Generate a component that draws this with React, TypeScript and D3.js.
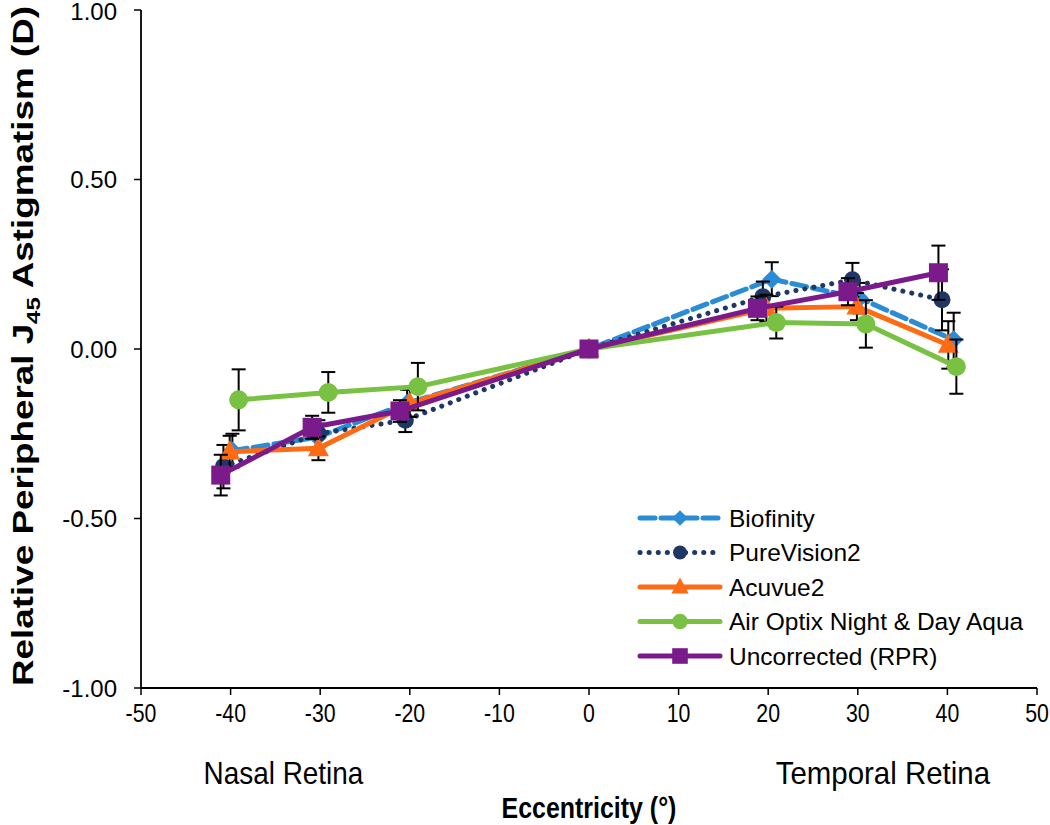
import React from "react";
import * as d3 from "d3";

const seriesNames = ["Biofinity", "PureVision2", "Acuvue2", "Air Optix Night & Day Aqua", "Uncorrected (RPR)"];

const biofinityX = [-39.8, -30.3, -20.3, 0, 20.4, 30.2, 40.7];
const biofinityY = [-0.3, -0.26, -0.16, 0, 0.206, 0.15, 0.027];
const biofinityErr = [0.05, 0.04, 0.04, 0, 0.05, 0.045, 0.08];

const pureVisionX = [-40.8, -30.2, -20.5, 0, 19.4, 29.4, 39.4];
const pureVisionY = [-0.347, -0.25, -0.21, 0, 0.154, 0.204, 0.145];
const pureVisionErr = [0.064, 0.04, 0.035, 0, 0.045, 0.05, 0.09];

const acuvueX = [-40.1, -30.2, -20, 0, 19.8, 29.9, 40.1];
const acuvueY = [-0.303, -0.293, -0.16, 0, 0.12, 0.125, 0.012];
const acuvueErr = [0.047, 0.035, 0.04, 0, 0.04, 0.04, 0.07];

const airOptixX = [-39.1, -29.1, -19.1, 0, 20.9, 30.9, 41];
const airOptixY = [-0.15, -0.128, -0.111, 0, 0.078, 0.074, -0.052];
const airOptixErr = [0.09, 0.06, 0.07, 0, 0.047, 0.07, 0.08];

const uncorrectedX = [-41.1, -30.9, -21.1, 0, 18.8, 28.9, 39];
const uncorrectedY = [-0.372, -0.231, -0.183, 0, 0.12, 0.169, 0.225];
const uncorrectedErr = [0.06, 0.034, 0.032, 0, 0.035, 0.04, 0.08];

const xTicks = [-50, -40, -30, -20, -10, 0, 10, 20, 30, 40, 50];
const yTicks = [-1, -0.5, 0, 0.5, 1];

const FONT = "'Liberation Sans', Arial, sans-serif";

type Series = {
  name: string;
  xs: number[];
  ys: number[];
  err: number[];
  color: string;
  dash: string | null;
  marker: "diamond" | "circle" | "triangle" | "square";
  size: number;
};

const series: Series[] = [
  { name: seriesNames[0], xs: biofinityX, ys: biofinityY, err: biofinityErr, color: "#2B8CD6", dash: "15,6", marker: "diamond", size: 9.5 },
  { name: seriesNames[1], xs: pureVisionX, ys: pureVisionY, err: pureVisionErr, color: "#1E3765", dash: "0.1,9", marker: "circle", size: 8.5 },
  { name: seriesNames[2], xs: acuvueX, ys: acuvueY, err: acuvueErr, color: "#FF6B15", dash: null, marker: "triangle", size: 10.5 },
  { name: seriesNames[3], xs: airOptixX, ys: airOptixY, err: airOptixErr, color: "#78C143", dash: null, marker: "circle", size: 9.5 },
  { name: seriesNames[4], xs: uncorrectedX, ys: uncorrectedY, err: uncorrectedErr, color: "#7B1A8A", dash: null, marker: "square", size: 9.5 },
];

const fmtY = (t: number) => d3.format(".2f")(t).replace("\u2212", "-");

function Marker({ type, cx, cy, s, color }: { type: string; cx: number; cy: number; s: number; color: string }) {
  if (type === "circle") return <circle cx={cx} cy={cy} r={s} fill={color} />;
  if (type === "square") return <rect x={cx - s} y={cy - s} width={2 * s} height={2 * s} fill={color} />;
  if (type === "diamond")
    return <path d={`M${cx},${cy - s} L${cx + s},${cy} L${cx},${cy + s} L${cx - s},${cy} Z`} fill={color} />;
  return <path d={`M${cx},${cy - s * 1.1} L${cx + s},${cy + s * 0.75} L${cx - s},${cy + s * 0.75} Z`} fill={color} />;
}

export default function App() {
  const left = 141, right = 1037, top = 10, bottom = 688;
  const x = d3.scaleLinear().domain([-50, 50]).range([left, right]);
  const y = d3.scaleLinear().domain([-1, 1]).range([bottom, top]);
  const legendY0 = 518, legendStep = 34.5;

  return (
    <svg width={1050} height={825} style={{ position: "absolute", left: 0, top: 0, background: "#fff" }} fontFamily={FONT}>
      {/* axes */}
      <line x1={left} x2={left} y1={top} y2={bottom} stroke="#000" strokeWidth={1.8} />
      <line x1={left} x2={right} y1={bottom} y2={bottom} stroke="#000" strokeWidth={1.8} />
      {yTicks.map((t) => (
        <g key={"y" + t}>
          <line x1={left - 7} x2={left} y1={y(t)} y2={y(t)} stroke="#000" strokeWidth={1.5} />
          <text x={117} y={y(t) + 8.5 + (t === 1 ? 1 : 0)} textAnchor="end" fontSize={24}>
            {fmtY(t)}
          </text>
        </g>
      ))}
      {xTicks.map((t) => (
        <g key={"x" + t}>
          <line x1={x(t)} x2={x(t)} y1={bottom} y2={bottom + 7} stroke="#000" strokeWidth={1.5} />
          <text transform={`translate(${x(t)},${bottom + 34}) scale(0.82,1)`} textAnchor="middle" fontSize={26}>
            {t}
          </text>
        </g>
      ))}
      <text transform={`translate(${x(-34.1)},${784}) scale(0.9,1)`} textAnchor="middle" fontSize={31}>Nasal Retina</text>
      <text transform={`translate(${x(32.8)},${784}) scale(0.95,1)`} textAnchor="middle" fontSize={31}>Temporal Retina</text>
      <text transform={`translate(${x(0)},${818}) scale(0.86,1)`} textAnchor="middle" fontSize={29} fontWeight="bold">Eccentricity (°)</text>
      <text transform={`translate(${33},${(top + bottom) / 2 - 3}) rotate(-90) scale(1.27,1)`} textAnchor="middle" fontSize={29} fontWeight="bold">
        Relative Peripheral J<tspan fontSize={19} dy={7}>45</tspan><tspan dy={-7}> Astigmatism (D)</tspan>
      </text>

      {/* series */}
      {series.map((s) => {
        const pts = s.xs.map((v, i) => [x(v), y(s.ys[i])] as [number, number]);
        const line = d3.line()(pts) || "";
        return (
          <g key={s.name}>
            {s.xs.map((v, i) =>
              s.err[i] > 0 ? (
                <g key={i} stroke="#000" strokeWidth={2}>
                  <line x1={x(v)} x2={x(v)} y1={y(s.ys[i] + s.err[i])} y2={y(s.ys[i] - s.err[i])} />
                  <line x1={x(v) - 7} x2={x(v) + 7} y1={y(s.ys[i] + s.err[i])} y2={y(s.ys[i] + s.err[i])} />
                  <line x1={x(v) - 7} x2={x(v) + 7} y1={y(s.ys[i] - s.err[i])} y2={y(s.ys[i] - s.err[i])} />
                </g>
              ) : null
            )}
            <path d={line} fill="none" stroke={s.color} strokeWidth={5} strokeDasharray={s.dash || undefined} strokeLinecap={s.dash ? "round" : "butt"} strokeLinejoin="round" />
            {pts.map((p, i) => (
              <Marker key={i} type={s.marker} cx={p[0]} cy={p[1]} s={s.size} color={s.color} />
            ))}
          </g>
        );
      })}

      {/* legend */}
      {series.map((s, i) => {
        const ly = legendY0 + i * legendStep;
        return (
          <g key={"leg" + s.name}>
            <line x1={640} x2={720} y1={ly} y2={ly} stroke={s.color} strokeWidth={5} strokeDasharray={s.dash || undefined} strokeLinecap="round" />
            <Marker type={s.marker} cx={680} cy={ly} s={s.size * 0.82} color={s.color} />
            <text x={729} y={ly} dominantBaseline="central" fontSize={24.5}>{s.name}</text>
          </g>
        );
      })}
    </svg>
  );
}
